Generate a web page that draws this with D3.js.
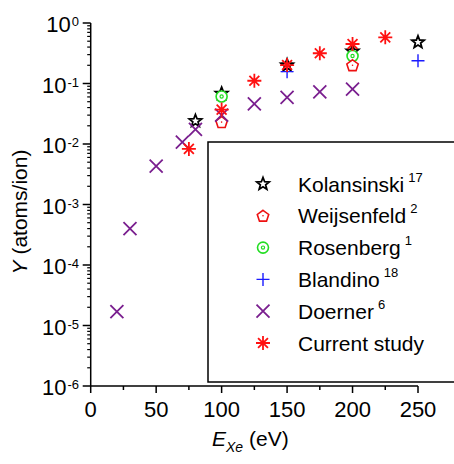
<!DOCTYPE html>
<html lang="en">
<head>
    <meta charset="UTF-8">
    <title>Sputter yield vs Xe ion energy (D3.js)</title>
    <script src="https://d3js.org/d3.v7.min.js"></script>
    <style>
        body { margin: 0; background: #fff; }
        text { font-family: "Liberation Sans", Arial, sans-serif; fill: #000; }
    </style>
</head>
<body>
    <svg width="454" height="464" id="chart"></svg>

    <script>
        // data (x = ion energy in eV, y = yield)
        const kolansinskiX = [80, 100, 150, 200, 250];
        const kolansinskiY = [0.024, 0.068, 0.2, 0.34, 0.48];
        const weijsenfeldX = [100, 200];
        const weijsenfeldY = [0.023, 0.2];
        const rosenbergX = [100, 200];
        const rosenbergY = [0.061, 0.285];
        const blandinoX = [150, 250];
        const blandinoY = [0.157, 0.238];
        const doernerX = [20, 30, 50, 70, 80, 100, 125, 150, 175, 200];
        const doernerY = [1.7e-5, 4.0e-4, 4.3e-3, 0.0107, 0.0175, 0.03, 0.046, 0.059, 0.073, 0.081];
        const currentX = [75, 100, 125, 150, 175, 200, 225];
        const currentY = [0.0083, 0.037, 0.111, 0.202, 0.316, 0.45, 0.58];

        const xTicks = [0, 50, 100, 150, 200, 250];
        const yExponents = [0, -1, -2, -3, -4, -5, -6];

        const series = [
            { name: "Kolansinski", ref: "17", xs: kolansinskiX, ys: kolansinskiY, shape: "star", color: "#000" },
            { name: "Rosenberg", ref: "1", xs: rosenbergX, ys: rosenbergY, shape: "circle", color: "#22dd22" },
            { name: "Weijsenfeld", ref: "2", xs: weijsenfeldX, ys: weijsenfeldY, shape: "pentagon", color: "#ee1111" },
            { name: "Blandino", ref: "18", xs: blandinoX, ys: blandinoY, shape: "plus", color: "#1a1aff" },
            { name: "Doerner", ref: "6", xs: doernerX, ys: doernerY, shape: "cross", color: "#7a1f8f" },
            { name: "Current study", ref: "", xs: currentX, ys: currentY, shape: "asterisk", color: "#ff1111" }
        ];
        const legendOrder = ["Kolansinski", "Weijsenfeld", "Rosenberg", "Blandino", "Doerner", "Current study"];

        const svg = d3.select("#chart");
        const plotLeft = 90.7, plotRight = 418, plotTop = 23, plotBottom = 386;

        const x = d3.scaleLinear().domain([0, 250]).range([plotLeft, plotRight]);
        const y = d3.scaleLog().domain([1e-6, 1]).range([plotBottom, plotTop]);

        // x axis
        const gx = svg.append("g").attr("transform", `translate(0,${plotBottom})`);
        gx.append("line").attr("x1", plotLeft).attr("x2", plotRight).attr("stroke", "#000").attr("stroke-width", 1.5);
        gx.selectAll(".minor").data(d3.range(0, 251, 25)).enter().append("line")
            .attr("x1", d => x(d)).attr("x2", d => x(d))
            .attr("y1", 0).attr("y2", d => d % 50 === 0 ? 7 : 4)
            .attr("stroke", "#000").attr("stroke-width", 1.5);
        gx.selectAll("text").data(xTicks).enter().append("text")
            .attr("x", d => x(d)).attr("y", 31)
            .attr("text-anchor", "middle").attr("font-size", 22)
            .text(d => d);

        // y axis
        const gy = svg.append("g");
        gy.append("line").attr("x1", plotLeft).attr("x2", plotLeft).attr("y1", plotTop).attr("y2", plotBottom)
            .attr("stroke", "#000").attr("stroke-width", 1.5);
        const minorVals = [];
        for (let e = -6; e < 0; e++) {
            for (let m = 2; m <= 9; m++) minorVals.push(m * Math.pow(10, e));
        }
        gy.selectAll(".minor").data(minorVals).enter().append("line")
            .attr("x1", plotLeft - 3.5).attr("x2", plotLeft)
            .attr("y1", d => y(d)).attr("y2", d => y(d))
            .attr("stroke", "#000").attr("stroke-width", 1.2);
        gy.selectAll(".major").data(yExponents).enter().append("line")
            .attr("x1", plotLeft - 8).attr("x2", plotLeft)
            .attr("y1", d => y(Math.pow(10, d))).attr("y2", d => y(Math.pow(10, d)))
            .attr("stroke", "#000").attr("stroke-width", 1.5);
        const yl = gy.selectAll(".lab").data(yExponents).enter().append("text")
            .attr("x", 79).attr("y", d => y(Math.pow(10, d)) + 9)
            .attr("text-anchor", "end").attr("font-size", 22);
        yl.append("tspan").text("10");
        yl.append("tspan").attr("font-size", 13).attr("dx", 1).attr("dy", -6).text(d => d === 0 ? "0" : "-" + (-d));

        // axis titles
        const ytitle = svg.append("text")
            .attr("transform", "translate(27,212) rotate(-90)")
            .attr("text-anchor", "middle").attr("font-size", 21);
        ytitle.append("tspan").attr("font-style", "italic").text("Y");
        ytitle.append("tspan").text(" (atoms/ion)");

        const xtitle = svg.append("text")
            .attr("x", 212).attr("y", 446).attr("font-size", 21);
        xtitle.append("tspan").attr("font-style", "italic").text("E");
        xtitle.append("tspan").attr("font-style", "italic").attr("font-size", 14).attr("dy", 6).text("Xe");
        xtitle.append("tspan").attr("dy", -6).text(" (eV)");

        // marker drawing
        function drawMarker(g, shape, color, cx, cy) {
            const m = g.append("g").attr("transform", `translate(${cx},${cy})`)
                .attr("fill", "none").attr("stroke", color).attr("stroke-width", 1.6);
            if (shape === "star") {
                const pts = d3.range(10).map(i => {
                    const r = i % 2 === 0 ? 6.5 : 2.8;
                    const a = -Math.PI / 2 + i * Math.PI / 5;
                    return [r * Math.cos(a), r * Math.sin(a)];
                });
                m.append("path").attr("d", d3.line()(pts) + "Z").attr("stroke-width", 1.8).attr("fill", "#fff");
            } else if (shape === "pentagon") {
                const pts = d3.range(5).map(i => {
                    const a = -Math.PI / 2 + i * 2 * Math.PI / 5;
                    return [6 * Math.cos(a), 6 * Math.sin(a) + 0.5];
                });
                m.append("path").attr("d", d3.line()(pts) + "Z").attr("fill", "#fff");
                m.append("circle").attr("r", 0.8).attr("fill", color).attr("stroke", "none");
            } else if (shape === "circle") {
                m.append("circle").attr("r", 5.5).attr("fill", "#fff");
                m.append("circle").attr("r", 1.6).attr("stroke-width", 1.2);
            } else if (shape === "plus") {
                m.append("path").attr("d", "M-6.5,0H6.5M0,-6.5V6.5").attr("stroke-width", 1.4);
            } else if (shape === "cross") {
                m.append("path").attr("d", "M-6.5,-6.5L6.5,6.5M-6.5,6.5L6.5,-6.5").attr("stroke-width", 1.8);
            } else if (shape === "asterisk") {
                const p = d3.range(4).map(i => {
                    const a = i * Math.PI / 4;
                    const dx = 7 * Math.cos(a), dy = 7 * Math.sin(a);
                    return `M${-dx},${-dy}L${dx},${dy}`;
                }).join("");
                m.append("path").attr("d", p).attr("stroke-width", 1.8);
            }
        }

        // data markers
        const plot = svg.append("g");
        series.forEach(s => {
            s.xs.forEach((xv, i) => drawMarker(plot, s.shape, s.color, x(xv), y(s.ys[i])));
        });

        // legend
        const legend = svg.append("g");
        legend.append("rect").attr("x", 208).attr("y", 142).attr("width", 260).attr("height", 240)
            .attr("fill", "#fff").attr("stroke", "#000").attr("stroke-width", 1.5);
        legendOrder.forEach((name, i) => {
            const s = series.find(d => d.name === name);
            const ly = 184 + i * 31.8;
            drawMarker(legend, s.shape, s.color, 263, ly);
            const t = legend.append("text").attr("x", 298).attr("y", ly + 7.5).attr("font-size", 21);
            t.append("tspan").text(s.name);
            if (s.ref) t.append("tspan").attr("font-size", 13).attr("dx", 4).attr("dy", -10).text(s.ref);
        });
    </script>
</body>
</html>
